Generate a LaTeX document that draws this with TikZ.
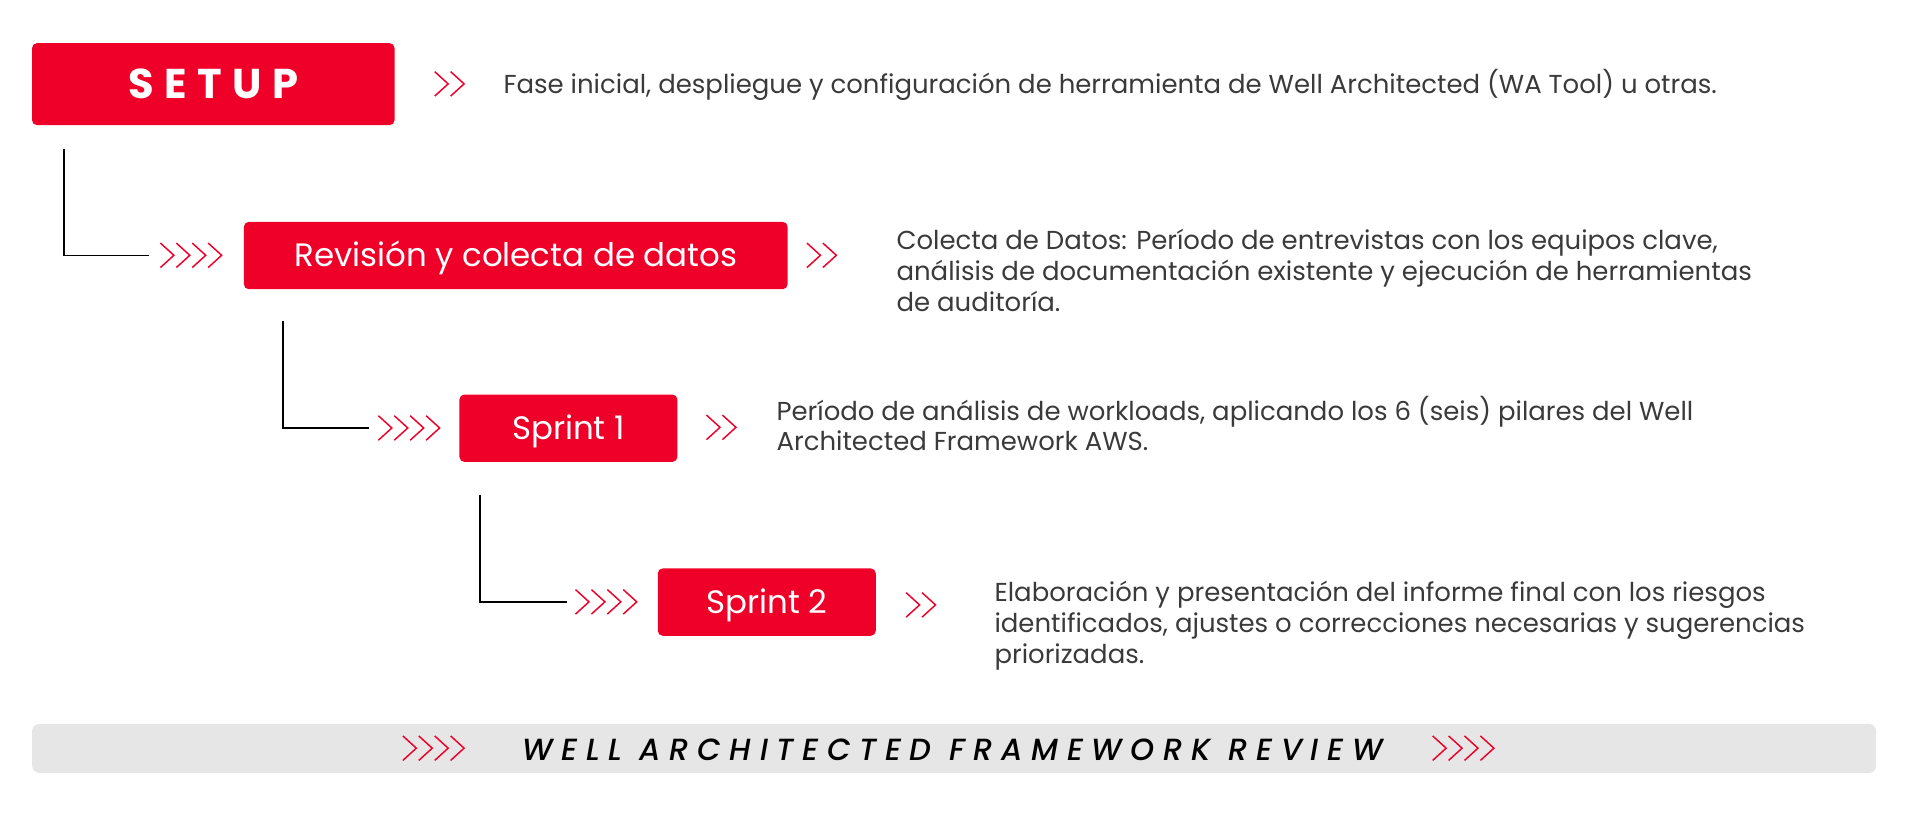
\documentclass[tikz,border=0pt]{standalone}
\usepackage{fontspec}
\setmainfont{Poppins}
\newfontfamily\barfont{Poppins Medium}[ItalicFont={Poppins Medium Italic}, LetterSpace=28]
\definecolor{warred}{HTML}{EF0029}
\definecolor{wartext}{HTML}{3A3A3A}
\definecolor{warbar}{HTML}{E6E6E6}
\tikzset{
    phasebox/.style={fill=warred, rounded corners=4pt, inner sep=0pt, anchor=north west,
        text=white, font=\fontsize{26.5}{30}\selectfont, text height=18.5pt, text depth=0pt},
    desc/.style={anchor=base west, inner sep=0pt, align=left, text=wartext,
        font=\fontsize{21.2}{25.3}\selectfont},
    link/.style={draw=black, line width=1.4pt},
    chevline/.style={draw=warred, line width=1.2pt}
}
% n chevrons starting at x, centred on y
\newcommand{\chevs}[3]{%
    \foreach \k in {1,...,#1}
        \draw [chevline] ({#2+(\k-1)*13},{#3-10}) -- ++(11,10) -- ++(-11,10);
}
\begin{document}
\begin{tikzpicture}[x=1pt, y=-1pt]
        \useasboundingbox (0,0) rectangle (1568,672);
        %\draw [help lines, step=50] (0,0) grid (1568,672);

        %the phases
        \node [phasebox, minimum width=296pt, minimum height=67pt, text height=24pt,
            font=\fontsize{34}{40}\selectfont\bfseries\addfontfeatures{LetterSpace=25}] (setup) at (26,35) {SETUP};
        \node [phasebox, minimum width=444pt, minimum height=55pt] (rev) at (199,181) {Revisión y colecta de datos};
        \node [phasebox, minimum width=178pt, minimum height=55pt] (sp1) at (375,322) {Sprint 1};
        \node [phasebox, minimum width=178pt, minimum height=55pt] (sp2) at (537,464) {Sprint 2};

        %connectors
        \draw [link] ([xshift=26pt, yshift=-19pt]setup.south west) |- ([xshift=-77pt]rev.west);
        \draw [link] ([xshift=32pt, yshift=-26pt]rev.south west) |- ([xshift=-74pt]sp1.west);
        \draw [link] ([xshift=17pt, yshift=-26.5pt]sp1.south west) |- ([xshift=-74pt]sp2.west);

        \chevs{4}{131}{208.5}
        \chevs{4}{309}{349.5}
        \chevs{4}{470}{491.5}

        \chevs{2}{355}{68.5}
        \chevs{2}{659}{208.5}
        \chevs{2}{577}{349}
        \chevs{2}{740}{494}

        %descriptions (base = last line)
        \node [desc] (d0) at (411,76) {Fase inicial, despliegue y configuración de herramienta de Well Architected (WA Tool) u otras.};
        \node [desc] (d1) at (732,254.6) {Colecta de Datos: Período de entrevistas con los equipos clave,\\análisis de documentación existente y ejecución de herramientas\\de auditoría.};
        \node [desc] (d2) at (634,368.3) {Período de análisis de workloads, aplicando los 6 (seis) pilares del Well\\Architected Framework AWS.};
        \node [desc] (d3) at (812,542) {Elaboración y presentación del informe final con los riesgos\\identificados, ajustes o correcciones necesarias y sugerencias\\priorizadas.};

        %bottom bar
        \node [fill=warbar, rounded corners=6pt, inner sep=0pt, anchor=north west,
            minimum width=1506pt, minimum height=40pt] (bar) at (26,591) {};
        \node [anchor=base, inner sep=0pt, font=\fontsize{25}{30}\barfont\itshape] (title) at (778,621) {WELL ARCHITECTED FRAMEWORK REVIEW};
        \chevs{4}{329}{611}
        \chevs{4}{1170}{611}

    \end{tikzpicture}
\end{document}
